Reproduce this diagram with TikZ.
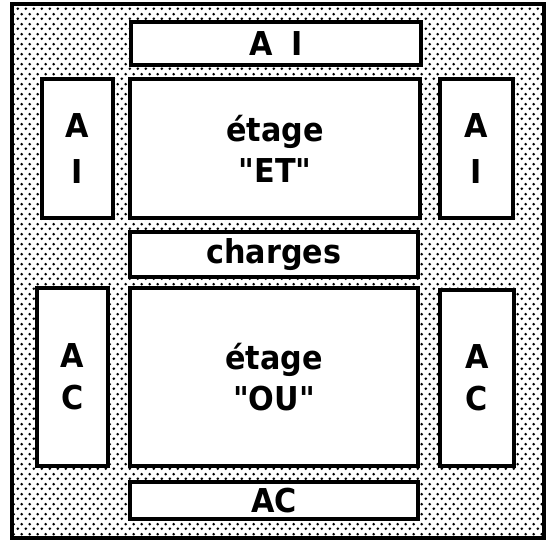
\documentclass[tikz,border=0pt]{standalone}
\usepackage{fontspec}
\newfontfamily\boxfont{DejaVu Sans}[BoldFont=DejaVu Sans Bold, FakeStretch=0.92]
\usetikzlibrary{patterns}
\pgfdeclarepatternformonly{macdots}{\pgfqpoint{0bp}{0bp}}{\pgfqpoint{8.3bp}{10bp}}{\pgfqpoint{8.3bp}{10bp}}{%
  \pgfpathcircle{\pgfqpoint{2bp}{2.5bp}}{1.55bp}%
  \pgfpathcircle{\pgfqpoint{6.15bp}{7.5bp}}{1.55bp}%
  \pgfusepath{fill}}
\begin{document}
\begin{tikzpicture}[x=1bp,y=-1bp,
  frame/.style={draw, line width=3.5bp, pattern=macdots, inner sep=0pt},
  box/.style={draw, line width=3.5bp, fill=white, inner sep=0pt, align=center,
    font=\boxfont\bfseries\fontsize{33}{41}\selectfont}]
\fill[white] (0,0) rectangle (550,541);
\useasboundingbox (0,0) rectangle (550,541);
\node[frame, minimum width=532bp, minimum height=534bp] (outer) at (278,271) {};
\node[box, minimum width=290bp, minimum height=43bp] (topAI) at (276,43.5) {A\hspace{8bp} I};
\node[box, minimum width=71bp, minimum height=139bp, font=\boxfont\bfseries\fontsize{33}{46}\selectfont] (leftAI) at (77.5,148.5) {A\\I};
\node[box, minimum width=290bp, minimum height=139bp] (ET) at (275,148.5) {étage\\"ET"};
\node[box, minimum width=73bp, minimum height=139bp, font=\boxfont\bfseries\fontsize{33}{46}\selectfont] (rightAI) at (476.5,148.5) {A\\I};
\node[box, minimum width=288bp, minimum height=45bp] (charges) at (274,254.5) {charges};
\node[box, minimum width=71bp, minimum height=178bp, font=\boxfont\bfseries\fontsize{33}{42}\selectfont] (leftAC) at (72.5,377) {A\\C};
\node[box, minimum width=288bp, minimum height=178bp] (OU) at (274,377) {étage\\"OU"};
\node[box, minimum width=74bp, minimum height=176bp, font=\boxfont\bfseries\fontsize{33}{42}\selectfont] (rightAC) at (477,378) {A\\C};
\node[box, minimum width=288bp, minimum height=37bp] (bottomAC) at (274,500.5) {AC};
\end{tikzpicture}
\end{document}
